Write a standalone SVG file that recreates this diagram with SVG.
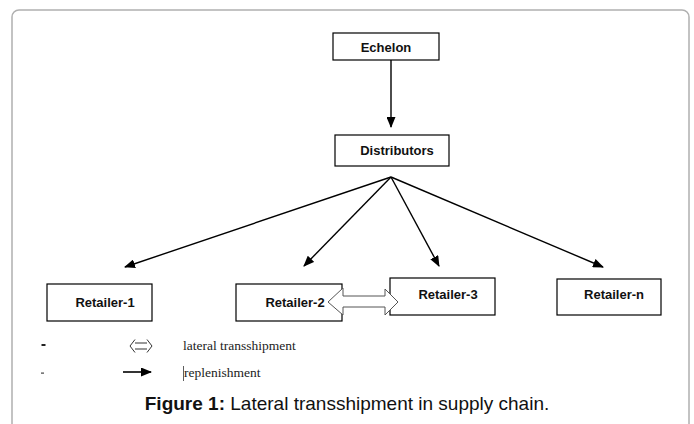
<svg xmlns="http://www.w3.org/2000/svg" width="694" height="424" viewBox="0 0 694 424">
<style>
.box{fill:#fff;stroke:#000;stroke-width:1.2}
.lbl{font-family:"Liberation Sans",Arial,sans-serif;font-weight:bold;font-size:13px;fill:#111;text-anchor:middle}
.conn{stroke:#000;stroke-width:1.4;fill:none}
.leg{font-family:"Liberation Serif","Times New Roman",serif;font-size:13.5px;fill:#222}
.cap{font-family:"Liberation Sans",Arial,sans-serif;font-size:19px;fill:#111;text-anchor:middle}
</style>
<defs>
<marker id="ah" markerWidth="11" markerHeight="9" refX="10" refY="4.5" orient="auto" markerUnits="userSpaceOnUse">
<path d="M0,0 L11,4.5 L0,9 Z" fill="#000"/>
</marker>
</defs>
<rect x="0" y="0" width="694" height="424" fill="#fff"/>
<rect x="12" y="10" width="677" height="440" rx="7" fill="none" stroke="#b0b0b0" stroke-width="1.5"/>

<g id="connectors">
<line class="conn" x1="391" y1="60" x2="391" y2="127" marker-end="url(#ah)"/>
<line class="conn" x1="391" y1="177" x2="125" y2="267" marker-end="url(#ah)"/>
<line class="conn" x1="391" y1="177" x2="304" y2="266" marker-end="url(#ah)"/>
<line class="conn" x1="391" y1="177" x2="439" y2="266" marker-end="url(#ah)"/>
<line class="conn" x1="391" y1="177" x2="603" y2="267" marker-end="url(#ah)"/>
</g>

<g id="echelon">
<rect class="box" x="333" y="33" width="106" height="27"/>
<text class="lbl" x="386" y="52">Echelon</text>
</g>
<g id="distributors">
<rect class="box" x="335" y="135" width="114" height="31"/>
<text class="lbl" x="397" y="155">Distributors</text>
</g>
<g id="retailer-1">
<rect class="box" x="47" y="284" width="105" height="37"/>
<text class="lbl" x="105" y="307">Retailer-1</text>
</g>
<g id="retailer-2">
<rect class="box" x="236" y="284" width="106" height="37"/>
<text class="lbl" x="295" y="307">Retailer-2</text>
</g>
<g id="retailer-3">
<rect class="box" x="390" y="278" width="105" height="37"/>
<text class="lbl" x="448" y="299">Retailer-3</text>
</g>
<g id="retailer-n">
<rect class="box" x="557" y="279" width="104" height="36"/>
<text class="lbl" x="614" y="299">Retailer-n</text>
</g>

<g id="lateral-arrow">
<path d="M328,302 L343,288 L343,296 L385,296 L385,289 L398,302 L385,315 L385,307 L343,307 L343,315 Z" fill="#fff" stroke="#555" stroke-width="1"/>
</g>

<g id="legend">
<rect x="41.5" y="344" width="4" height="2" fill="#222"/>
<path d="M135,343 L147,343 M135,349 L147,349 M135,339.5 L130,346 L135,352.5 M147,339.5 L152,346 L147,352.5" fill="none" stroke="#333" stroke-width="1"/>
<text class="leg" x="183" y="350">lateral transshipment</text>
<rect x="41" y="372.5" width="3" height="1.2" fill="#444"/>
<line x1="123" y1="372" x2="151" y2="372" stroke="#000" stroke-width="1.6" marker-end="url(#ah)"/>
<line x1="183.5" y1="366" x2="183.5" y2="381" stroke="#333" stroke-width="0.8"/>
<text class="leg" x="184" y="377">replenishment</text>
</g>

<text class="cap" x="347" y="410"><tspan font-weight="bold">Figure 1:</tspan> Lateral transshipment in supply chain.</text>
</svg>
